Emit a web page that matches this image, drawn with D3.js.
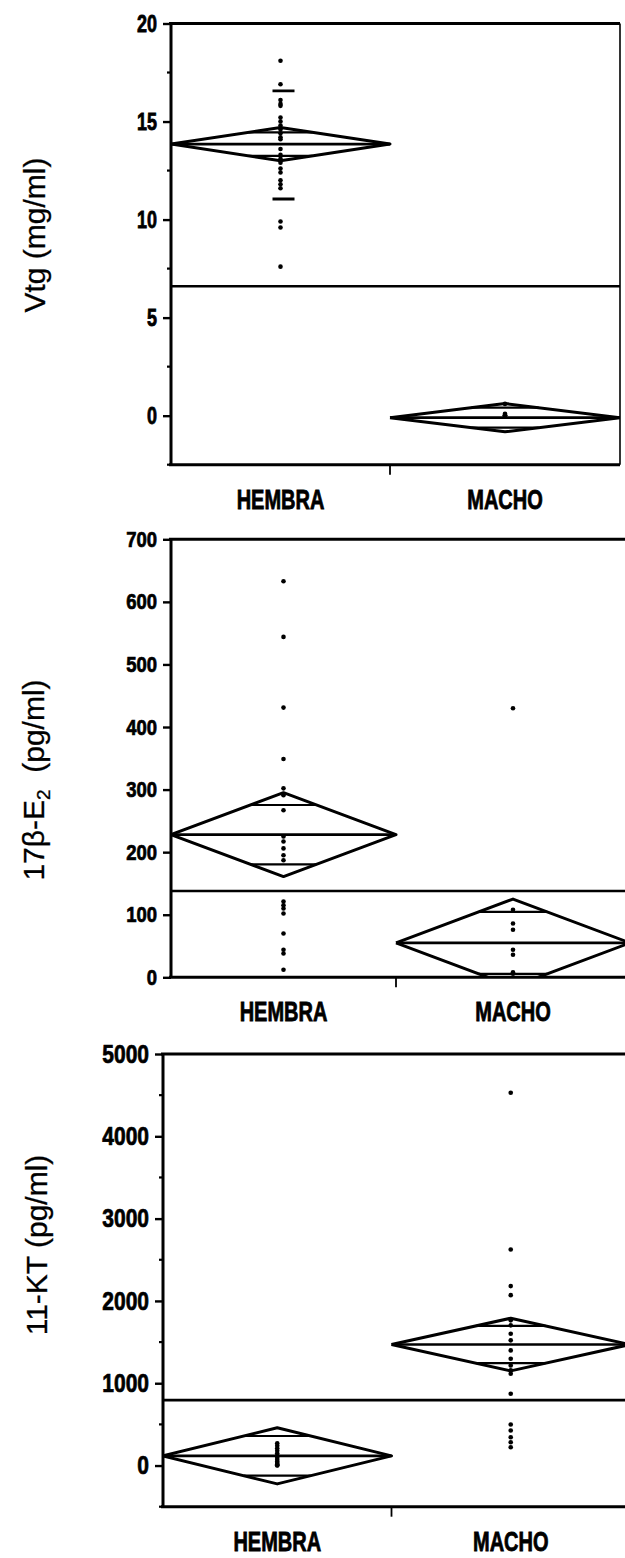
<!DOCTYPE html>
<html>
<head>
<meta charset="utf-8">
<script src="https://cdn.jsdelivr.net/npm/d3@7"></script>
<style>
  body { margin: 0; background: #fff; }
  svg { display: block; }
</style>
</head>
<body>
<svg id="chart" width="625" height="1558"></svg>
<script>
// ---- categories ----
const groups = ["HEMBRA", "MACHO"];

// ---- Vitelogenina (mg/ml) ----
const vtgHembra = [18.1, 16.9, 16.1, 15.9, 15.8, 15.2, 15.0, 14.8, 14.6, 14.4, 14.2, 14.1,
                   13.6, 13.3, 13.1, 12.9, 12.6, 12.4, 12.0, 11.8, 11.6, 9.9, 9.6, 7.6];
const vtgMacho = [0.6, 0.1, 0.05, 0.0, 0.0, 0.0, 0.0, 0.0];
const vtgMeans = [13.85, -0.1];
const vtgCiHalf = [0.85, 0.72];
const vtgSdLines = [16.56, 11.05];     // media ± 1 DE (HEMBRA)
const vtgGrandMean = 6.6;
const vtgTicks = [0, 5, 10, 15, 20];
const vtgMinorTicks = [-2.5, 2.5, 7.5, 12.5, 17.5];

// ---- 17β-estradiol (pg/ml) ----
const e2Hembra = [633, 544, 431, 349, 302, 291, 267, 225, 217, 206, 195, 187,
                  121, 115, 110, 102, 70, 44, 38, 12];
const e2Macho = [430, 108, 86, 76, 44, 36, 8, 0];
const e2Means = [228, 55];
const e2CiHalf = [67, 70];
const e2GrandMean = 138;
const e2Ticks = [0, 100, 200, 300, 400, 500, 600, 700];

// ---- 11-cetotestosterona (pg/ml) ----
const ktHembra = [270, 240, 210, 180, 150, 120, 95, 70, 50, 30, 15, 5, 0];
const ktMacho = [4530, 2624, 2180, 2070, 1764, 1703, 1602, 1521, 1399, 1298, 1217,
                 1156, 1115, 872, 499, 426, 344, 283, 223];
const ktMeans = [118, 1470];
const ktCiHalf = [341, 320];
const ktGrandMean = 795;
const ktTicks = [0, 1000, 2000, 3000, 4000, 5000];
const ktMinorTicks = [-500, 500, 1500, 2500, 3500, 4500];

const svg = d3.select("#chart");
const FONT = "'Liberation Sans', Arial, Helvetica, sans-serif";

function drawPanel(cfg, idx) {
  const g = svg.append("g");
  const [left, split, right] = cfg.xr;
  const x = d3.scaleLinear().domain([0, 1, 2]).range([left, split, right]);
  const y = d3.scaleLinear().domain(cfg.yDomain).range(cfg.yr);
  const yTop = y(cfg.yDomain[1]), yBot = y(cfg.yDomain[0]);
  const cx = i => x(i + 0.5);

  const clipId = "clip" + idx;
  svg.append("defs").append("clipPath").attr("id", clipId)
    .append("rect").attr("x", left).attr("y", yTop)
    .attr("width", right - left).attr("height", yBot - yTop);

  const plot = g.append("g").attr("clip-path", `url(#${clipId})`);

  // grand mean line
  plot.append("line")
    .attr("x1", left).attr("x2", right)
    .attr("y1", y(cfg.grand)).attr("y2", y(cfg.grand))
    .attr("stroke", "#000").attr("stroke-width", 2.6);

  // means diamonds with overlap marks
  groups.forEach((name, i) => {
    const m = cfg.means[i], h = cfg.ci[i];
    const x0 = x(i), x1 = x(i + 1), xc = cx(i);
    const poly = [[x0, m], [xc, m + h], [x1, m], [xc, m - h], [x0, m]];
    plot.append("path")
      .attr("d", d3.line().x(d => d[0]).y(d => y(d[1]))(poly))
      .attr("fill", "none").attr("stroke", "#000").attr("stroke-width", 3)
      .attr("stroke-linejoin", "round");
    plot.append("line")
      .attr("x1", x0).attr("x2", x1).attr("y1", y(m)).attr("y2", y(m))
      .attr("stroke", "#000").attr("stroke-width", 2.6);
    const k = 1 - Math.SQRT1_2;
    [m + h * Math.SQRT1_2, m - h * Math.SQRT1_2].forEach(v => {
      plot.append("line")
        .attr("x1", xc - k * (xc - x0)).attr("x2", xc + k * (x1 - xc))
        .attr("y1", y(v)).attr("y2", y(v))
        .attr("stroke", "#000").attr("stroke-width", 2.2);
    });
  });

  // standard deviation bars
  if (cfg.sd) {
    cfg.sd.forEach(v => {
      plot.append("line")
        .attr("x1", cx(0) - 8).attr("x2", cx(0) + 14)
        .attr("y1", y(v)).attr("y2", y(v))
        .attr("stroke", "#000").attr("stroke-width", 2.8);
    });
  }

  // individual observations
  cfg.points.forEach((vals, i) => {
    plot.selectAll(null).data(vals).enter().append("circle")
      .attr("cx", cx(i)).attr("cy", d => y(d)).attr("r", 2.3)
      .attr("fill", "#000");
  });

  // frame
  const frame = [
    [left, yTop, left, yBot, 3],
    [left - 2, yTop, right, yTop, 3],
    [left - 2, yBot, right, yBot, 3],
    [right, yTop, right, yBot, 1.6]
  ];
  frame.forEach(f => g.append("line")
    .attr("x1", f[0]).attr("y1", f[1]).attr("x2", f[2]).attr("y2", f[3])
    .attr("stroke", "#000").attr("stroke-width", f[4]));

  // separator tick between categories
  g.append("line")
    .attr("x1", x(1)).attr("x2", x(1)).attr("y1", yBot).attr("y2", yBot + 10)
    .attr("stroke", "#000").attr("stroke-width", 1.8);

  // y axis
  const axis = d3.axisLeft(y).tickValues(cfg.ticks).tickFormat(d3.format("d"))
    .tickSize(8).tickPadding(6);
  const ag = g.append("g").attr("transform", `translate(${left},0)`).call(axis);
  ag.select(".domain").remove();
  ag.selectAll(".tick line").attr("stroke", "#000").attr("stroke-width", 2.4);
  ag.selectAll(".tick text")
    .attr("fill", "#000")
    .attr("stroke", "#000").attr("stroke-width", 0.6)
    .attr("font-family", FONT).attr("font-weight", "bold")
    .attr("font-size", cfg.tickFont)
    .attr("transform", `scale(1,${cfg.tickStretch})`);

  if (cfg.minor) {
    g.selectAll(null).data(cfg.minor).enter().append("line")
      .attr("x1", left - 4).attr("x2", left)
      .attr("y1", d => y(d)).attr("y2", d => y(d))
      .attr("stroke", "#000").attr("stroke-width", 2.2);
  }

  // category labels
  groups.forEach((name, i) => {
    g.append("g")
      .attr("transform", `translate(${cx(i)},${yBot + 44}) scale(1,1.35)`)
      .append("text")
      .attr("text-anchor", "middle")
      .attr("stroke", "#000").attr("stroke-width", 0.6)
      .attr("font-family", FONT).attr("font-weight", "bold").attr("font-size", 20)
      .text(name);
  });

  // y-axis title
  const t = svg.append("text")
    .attr("transform", `translate(${cfg.titlePos[0]},${cfg.titlePos[1]}) rotate(-90)`)
    .attr("text-anchor", "middle")
    .attr("font-family", FONT).attr("font-size", 30).attr("fill", "#000")
    .attr("stroke", "#000").attr("stroke-width", 0.3);
  cfg.title(t);
}

drawPanel({
  xr: [171, 390, 620],
  yDomain: [-2.5, 20], yr: [464.7, 23.5],
  ticks: vtgTicks, minor: vtgMinorTicks,
  tickFont: 18, tickStretch: 1.32,
  points: [vtgHembra, vtgMacho], means: vtgMeans, ci: vtgCiHalf,
  sd: vtgSdLines, grand: vtgGrandMean,
  titlePos: [45, 235],
  title: t => t.text("Vtg (mg/ml)")
}, 1);

drawPanel({
  xr: [171, 396, 630],
  yDomain: [0, 700], yr: [977.3, 539.3],
  ticks: e2Ticks,
  tickFont: 18.5, tickStretch: 1.2,
  points: [e2Hembra, e2Macho], means: e2Means, ci: e2CiHalf,
  grand: e2GrandMean,
  titlePos: [44, 780],
  title: t => {
    t.append("tspan").text("17β-E");
    t.append("tspan").attr("font-size", 19).attr("dy", 6).text("2");
    t.append("tspan").attr("dy", -6).text("\u00a0 (pg/ml)");
  }
}, 2);

drawPanel({
  xr: [163, 391.5, 630],
  yDomain: [-500, 5000], yr: [1506.7, 1054],
  ticks: ktTicks, minor: ktMinorTicks,
  tickFont: 21, tickStretch: 1.2,
  points: [ktHembra, ktMacho], means: ktMeans, ci: ktCiHalf,
  grand: ktGrandMean,
  titlePos: [47, 1245],
  title: t => t.text("11-KT (pg/ml)")
}, 3);
</script>
</body>
</html>
